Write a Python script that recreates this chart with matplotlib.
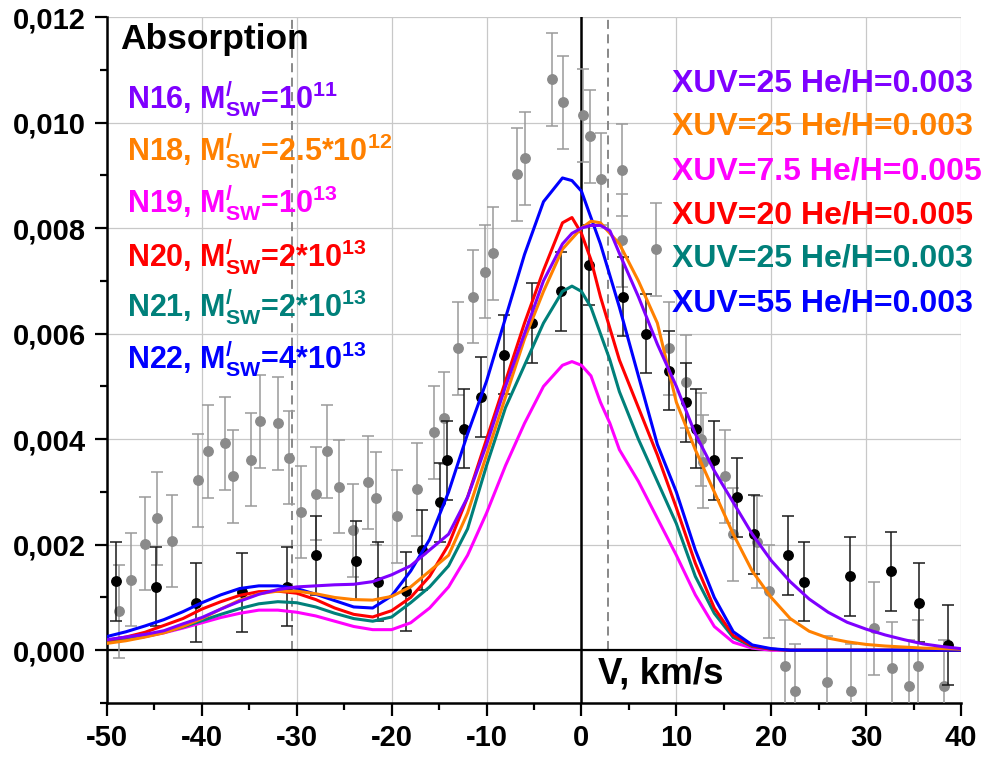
import matplotlib
matplotlib.use("Agg")
import matplotlib.pyplot as plt
from matplotlib.ticker import MultipleLocator, FixedLocator, FuncFormatter

plt.rcParams.update({
    "font.family": ["Liberation Sans", "DejaVu Sans"],
    "font.weight": "bold",
    "mathtext.fontset": "custom",
    "mathtext.rm": "Liberation Sans:bold",
    "mathtext.bf": "Liberation Sans:bold",
    "mathtext.it": "Liberation Sans:bold",
})

# ---------------- data ----------------
V_model = [-50, -48, -46, -44, -42, -40, -38, -36, -34, -32, -30, -28, -26, -24, -22,
           -20, -18, -16, -14, -12, -10, -8, -6, -4, -2, -1, 0, 1, 2, 3, 4,
           6, 8, 10, 12, 14, 16, 18, 20, 22, 24, 26, 28, 30, 32, 34, 36, 38, 40]

n16_purple = [0.0002, 0.00025, 0.0003, 0.00037, 0.0005, 0.00062, 0.00078, 0.00093, 0.00106, 0.00115,
              0.0012, 0.00122, 0.00124, 0.00125, 0.0013, 0.00143, 0.0016, 0.0019, 0.0022, 0.0029,
              0.0039, 0.005, 0.006, 0.007, 0.0077, 0.0079, 0.008, 0.00805, 0.00805, 0.00795, 0.00752,
              0.0067, 0.0058, 0.005, 0.0041, 0.0034, 0.0028, 0.0022, 0.0017, 0.0013, 0.00097,
              0.00072, 0.00053, 0.0004, 0.00029, 0.0002, 0.00012, 0.00007, 0.00003]
n18_orange = [0.00013, 0.00018, 0.00025, 0.00033, 0.00045, 0.0006, 0.00078, 0.00095, 0.00107, 0.00112,
              0.00112, 0.00107, 0.001, 0.00096, 0.00095, 0.00102, 0.0012, 0.0015, 0.0018, 0.0026,
              0.0037, 0.0048, 0.0059, 0.0068, 0.0076, 0.0078, 0.008, 0.00813, 0.0081, 0.0079, 0.0077,
              0.007, 0.0062, 0.0047, 0.0038, 0.003, 0.0022, 0.0015, 0.001, 0.0006, 0.00036,
              0.00023, 0.00016, 0.00011, 0.00008, 0.00006, 0.00004, 0.00003, 0.00002]
n19_magenta = [0.00015, 0.0002, 0.00026, 0.00033, 0.00042, 0.00052, 0.00062, 0.0007, 0.00076, 0.00076,
               0.00072, 0.00065, 0.00055, 0.00045, 0.00039, 0.00039, 0.00052, 0.0008, 0.0012, 0.0018,
               0.0026, 0.0035, 0.0043, 0.005, 0.0054, 0.00547, 0.0054, 0.0052, 0.0047, 0.0043, 0.0038,
               0.0032, 0.0025, 0.0018, 0.00105, 0.00045, 0.00015, 0.00004, 0.0, 0.0, 0.0,
               0.0, 0.0, 0.0, 0.0, 0.0, 0.0, 0.0, 0.0]
n20_red = [0.00019, 0.00025, 0.00034, 0.00047, 0.0006, 0.00078, 0.00092, 0.00104, 0.00111, 0.00112,
           0.00108, 0.00096, 0.0008, 0.00068, 0.00063, 0.00075, 0.001, 0.0014, 0.002, 0.0029,
           0.004, 0.0051, 0.0062, 0.0072, 0.0081, 0.0082, 0.0079, 0.0074, 0.0067, 0.0061, 0.0055,
           0.0046, 0.0037, 0.0027, 0.00165, 0.0008, 0.00028, 0.00008, 0.00002, 0.0, 0.0,
           0.0, 0.0, 0.0, 0.0, 0.0, 0.0, 0.0, 0.0]
n21_teal = [0.00016, 0.0002, 0.00026, 0.00034, 0.00044, 0.00056, 0.00068, 0.00079, 0.00088, 0.00092,
            0.0009, 0.00082, 0.0007, 0.0006, 0.00055, 0.00063, 0.0009, 0.0012, 0.0016, 0.0023,
            0.0035, 0.0046, 0.0054, 0.0062, 0.0068, 0.0069, 0.0068, 0.0065, 0.006, 0.0055, 0.0049,
            0.004, 0.0032, 0.0024, 0.0014, 0.0007, 0.00024, 0.00007, 0.00002, 0.0, 0.0,
            0.0, 0.0, 0.0, 0.0, 0.0, 0.0, 0.0, 0.0]
n22_blue = [0.00026, 0.00035, 0.00046, 0.00058, 0.00073, 0.0009, 0.00105, 0.00117, 0.00122, 0.00122,
            0.00117, 0.00106, 0.00094, 0.00082, 0.0008, 0.00103, 0.0015, 0.0021, 0.003, 0.0041,
            0.0051, 0.0063, 0.0075, 0.0085, 0.00895, 0.0089, 0.0087, 0.0082, 0.0077, 0.0071, 0.0065,
            0.0052, 0.0039, 0.003, 0.0019, 0.001, 0.00035, 0.0001, 0.00003, 0.0, 0.0,
            0.0, 0.0, 0.0, 0.0, 0.0, 0.0, 0.0, 0.0]

# observed points (black)
V_black = [-49.05, -44.8, -40.6, -35.8, -31.0, -28.0, -23.8, -21.4, -18.5, -16.8, -14.9, -14.2,
           -12.4, -10.6, -8.2, -5.2, -2.2, 0.8, 4.4, 6.8, 9.2, 11.0, 12.1, 14.0, 16.4, 18.2,
           21.8, 23.5, 28.3, 32.6, 35.6, 38.6]
A_black = [0.00131, 0.0012, 0.0009, 0.0011, 0.0012, 0.0018, 0.0017, 0.0013, 0.00112, 0.0019, 0.0028,
           0.0036, 0.0042, 0.0048, 0.0056, 0.0062, 0.0068, 0.0073, 0.0067, 0.006, 0.0053, 0.0047,
           0.0042, 0.0036, 0.0029, 0.0022, 0.0018, 0.0013, 0.0014, 0.0015, 0.0009, 0.0001]
err_black = 0.00075

# observed points (gray)
V_gray = [-48.7, -47.5, -46.0, -44.7, -43.2, -40.4, -39.4, -37.6, -36.7, -34.8, -33.9, -32.0, -30.8,
          -29.6, -28.0, -26.8, -25.6, -24.1, -22.5, -21.6, -19.4, -17.3, -15.5, -14.5, -13.0,
          -11.4, -10.2, -9.3, -6.8, -5.9, -3.1, -1.9, 0.2, 0.9, 2.1, 4.3, 4.3, 7.9, 9.2, 11.0,
          12.6, 12.8, 15.1, 16.0, 18.5, 19.8, 21.5, 22.5, 25.9, 28.4, 30.8, 32.7, 34.5, 35.5, 38.2]
A_gray = [0.00074, 0.00134, 0.00202, 0.0025, 0.00207, 0.00322, 0.00377, 0.00392, 0.0033, 0.00361,
          0.00434, 0.0043, 0.00365, 0.00262, 0.00297, 0.00377, 0.0031, 0.00227, 0.00318, 0.00288,
          0.00254, 0.00305, 0.00413, 0.0044, 0.00572, 0.0067, 0.00717, 0.00752, 0.00902, 0.00932,
          0.01082, 0.01038, 0.01014, 0.00974, 0.00893, 0.0091, 0.00777, 0.0076, 0.00572, 0.00509,
          0.004, 0.00357, 0.0033, 0.0022, 0.00205, 0.00112, -0.0003, -0.00077, -0.00061, -0.00077,
          0.00042, -0.00034, -0.00068, -0.0003, -0.00068]
err_gray = 0.00088

model_labels = [r"N16, $\mathbf{M}^{\mathbf{/}}_{\mathbf{SW}}$=10$^{\mathbf{11}}$",
                r"N18, $\mathbf{M}^{\mathbf{/}}_{\mathbf{SW}}$=2.5*10$^{\mathbf{12}}$",
                r"N19, $\mathbf{M}^{\mathbf{/}}_{\mathbf{SW}}$=10$^{\mathbf{13}}$",
                r"N20, $\mathbf{M}^{\mathbf{/}}_{\mathbf{SW}}$=2*10$^{\mathbf{13}}$",
                r"N21, $\mathbf{M}^{\mathbf{/}}_{\mathbf{SW}}$=2*10$^{\mathbf{13}}$",
                r"N22, $\mathbf{M}^{\mathbf{/}}_{\mathbf{SW}}$=4*10$^{\mathbf{13}}$"]
xuv_labels = ["XUV=25 He/H=0.003", "XUV=25 He/H=0.003", "XUV=7.5 He/H=0.005",
              "XUV=20 He/H=0.005", "XUV=25 He/H=0.003", "XUV=55 He/H=0.003"]
colors = ["#7F00FF", "#FF8000", "#FF00FF", "#FF0000", "#00807A", "#0000FF"]
curves = [n16_purple, n18_orange, n19_magenta, n20_red, n21_teal, n22_blue]

x_ticks = [-50, -40, -30, -20, -10, 0, 10, 20, 30, 40]
y_ticks = [0.0, 0.002, 0.004, 0.006, 0.008, 0.010, 0.012]
dashed_V = [-30.5, 2.8]

# ---------------- figure ----------------
fig = plt.figure(figsize=(9.84, 7.57), dpi=100)
ax = fig.add_axes([0.10874, 0.07133, 0.86789, 0.90621])
ax.set_xlim(-50, 40)
ax.set_ylim(-0.001, 0.012)

ax.grid(True, color="#c8c8c8", linewidth=0.9, zorder=0)
ax.set_axisbelow(True)

for xv in dashed_V:
    ax.plot([xv, xv], [0, 0.012], color="#7f7f7f", linestyle=(0, (5, 3)), linewidth=1.3, zorder=1)
ax.axhline(0, color="black", linewidth=1.6, zorder=2)
ax.axvline(0, color="black", linewidth=1.8, zorder=2)

ax.errorbar(V_gray, A_gray, yerr=err_gray, fmt="o", color="#8a8a8a", ecolor="#9a9a9a",
            markersize=6.8, elinewidth=1.1, capsize=4.5, capthick=1.1, zorder=3)
ax.errorbar(V_black, A_black, yerr=err_black, fmt="o", color="black", ecolor="#1a1a1a",
            markersize=6.8, elinewidth=1.1, capsize=4.5, capthick=1.1, zorder=4)

order = [2, 4, 3, 5, 1, 0]
for i in order:
    ax.plot(V_model, curves[i], color=colors[i], linewidth=2.2, zorder=5 + order.index(i),
            solid_joinstyle="round", solid_capstyle="round")

# spines
for s in ["top", "right"]:
    ax.spines[s].set_visible(False)
for s in ["left", "bottom"]:
    ax.spines[s].set_linewidth(1.8)

ax.xaxis.set_major_locator(FixedLocator(x_ticks))
ax.xaxis.set_minor_locator(MultipleLocator(5))
ax.yaxis.set_major_locator(FixedLocator(y_ticks))
ax.yaxis.set_minor_locator(FixedLocator([-0.001, 0.001, 0.003, 0.005, 0.007, 0.009, 0.011]))
ax.yaxis.set_major_formatter(FuncFormatter(lambda y, _: f"{y:.3f}".replace(".", ",")))
ax.xaxis.set_major_formatter(FuncFormatter(lambda x, _: f"{x:.0f}"))
ax.tick_params(which="major", direction="out", length=9, width=1.6, labelsize=21, pad=6)
ax.tick_params(which="minor", direction="out", length=5, width=1.6)
for lab in ax.get_xticklabels() + ax.get_yticklabels():
    lab.set_fontweight("bold")

# texts
ax.text(0.0152, 0.9534, "Absorption", transform=ax.transAxes, fontsize=25.5,
        fontweight="bold", color="black", va="baseline", ha="left")
left_y = [0.8673, 0.7915, 0.7157, 0.637, 0.5627, 0.4883]
right_y = [0.8907, 0.828, 0.7638, 0.6997, 0.6356, 0.5714]
for i in range(6):
    ax.text(0.0234, left_y[i], model_labels[i], transform=ax.transAxes, fontsize=22,
            fontweight="bold", color=colors[i], va="baseline", ha="left")
    ax.text(0.6616, right_y[i], xuv_labels[i], transform=ax.transAxes, fontsize=23,
            fontweight="bold", color=colors[i], va="baseline", ha="left", clip_on=False)
ax.text(0.5749, 0.0287, "V, km/s", transform=ax.transAxes, fontsize=26.5,
        fontweight="bold", color="black", va="baseline", ha="left")

fig.savefig("out.png", dpi=100)
